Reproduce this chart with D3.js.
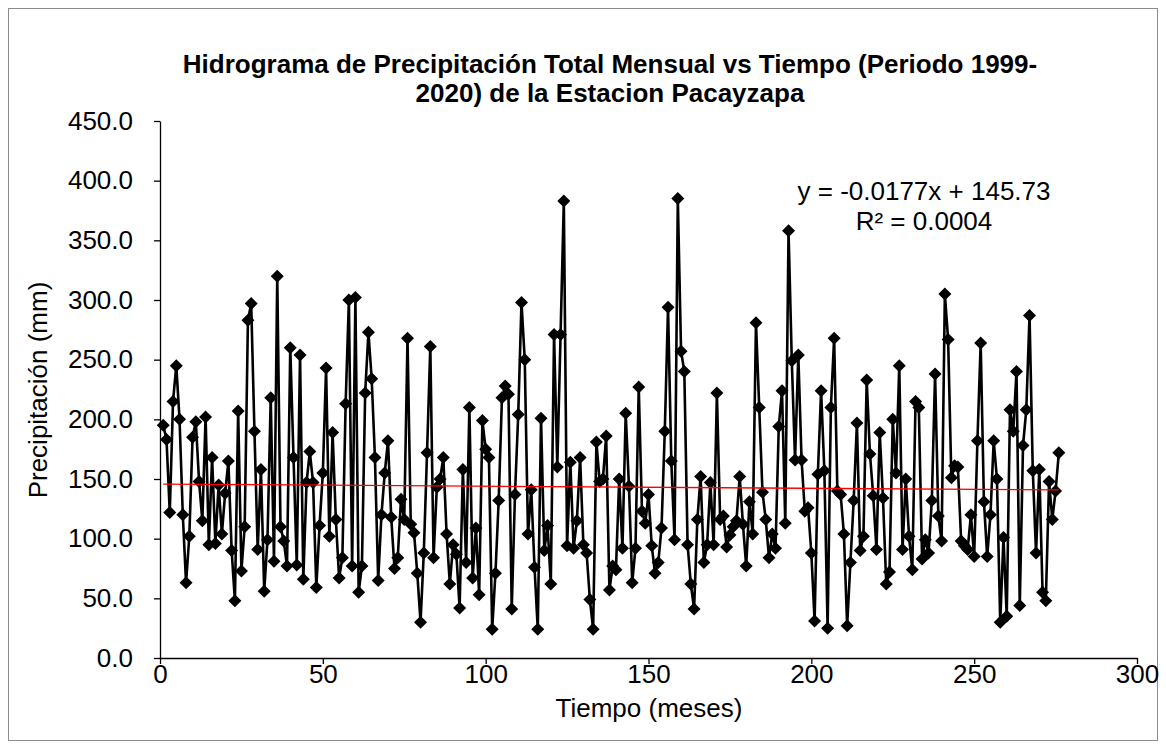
<!DOCTYPE html>
<html>
<head>
<meta charset="utf-8">
<script src="https://cdn.jsdelivr.net/npm/d3@7"></script>
<style>
  body { margin: 0; background: #fff; }
  svg { display: block; font-family: "Liberation Sans", Arial, sans-serif; }
</style>
</head>
<body>
<svg width="1166" height="749"></svg>
<script>
// monthly precipitation (mm), month 1..276
const precip = [
  195,183,122,215,245,200,120,63,102,185,198,148,115,202,95,168,96,145,104,138,
  165,90,48,207,73,110,283,297,190,91,158,56,99,218,81,320,110,98,77,260,
  168,78,254,66,147,173,147,59,111,155,243,102,189,116,67,84,213,300,77,302,
  55,77,222,273,234,168,65,120,155,182,118,75,84,133,116,268,112,105,71,30,
  88,172,261,84,143,150,168,104,62,95,87,42,158,80,210,67,109,53,199,175,
  168,24,71,132,218,228,221,41,137,204,298,250,104,141,76,24,201,90,111,62,
  271,160,271,383,94,164,92,115,168,95,88,49,24,181,148,150,186,57,77,74,
  150,92,205,144,63,92,227,123,113,137,94,71,80,109,190,294,165,99,385,257,
  240,95,62,41,116,152,80,95,147,95,222,116,119,93,103,110,115,152,112,77,
  131,104,281,210,139,116,84,104,92,194,224,113,358,249,166,254,166,123,126,88,
  31,154,224,157,25,210,268,140,137,104,27,80,132,197,90,102,233,171,136,91,
  189,134,62,72,200,155,245,91,150,102,74,215,210,83,99,88,132,238,119,98,
  305,267,151,161,160,98,94,91,120,85,182,264,131,85,120,182,150,30,101,35,
  208,190,240,44,178,208,287,157,88,158,55,48,148,116,140,172
];
const months = precip.map((v, i) => i + 1);

const xTicks = [0, 50, 100, 150, 200, 250, 300];
const yTicks = [0, 50, 100, 150, 200, 250, 300, 350, 400, 450];

// linear trend as printed on the chart
const trendSlope = -0.0177;
const trendIntercept = 145.73;
const trendR2 = "0.0004";

const titleLines = ["Hidrograma de Precipitación Total Mensual vs Tiempo (Periodo 1999-",
                    "2020) de la Estacion Pacayzapa"];

const fontSize = "26px";

var svg = d3.select("svg");

// chart border
svg.append("rect")
  .attr("x", 8.5).attr("y", 8.5)
  .attr("width", 1149).attr("height", 732)
  .attr("fill", "#fff")
  .attr("stroke", "#8c8c8c")
  .attr("stroke-width", 1);

const plotLeft = 160, plotRight = 1137, plotTop = 121, plotBottom = 658;

var x = d3.scaleLinear().domain([0, 300]).range([plotLeft, plotRight]);
var y = d3.scaleLinear().domain([0, 450]).range([plotBottom, plotTop]);

// axes
var xAxis = d3.axisBottom(x).tickValues(xTicks).tickSize(6).tickSizeOuter(0).tickFormat(d3.format("d"));
var yAxis = d3.axisLeft(y).tickValues(yTicks).tickSize(6).tickSizeOuter(0).tickFormat(d => d.toFixed(1));

var gx = svg.append("g").attr("transform", "translate(0," + plotBottom + ")").call(xAxis);
var gy = svg.append("g").attr("transform", "translate(" + plotLeft + ",0)").call(yAxis);

[gx, gy].forEach(function(g) {
  g.select(".domain").attr("stroke", "#000").attr("stroke-width", 1.3);
  g.selectAll(".tick line").attr("stroke", "#000").attr("stroke-width", 1.3);
  g.selectAll(".tick text")
    .attr("fill", "#000")
    .style("font-family", "'Liberation Sans', Arial, sans-serif")
    .style("font-size", fontSize);
});
gx.selectAll(".tick text").attr("dy", "0.6em");
gy.selectAll(".tick text").attr("x", -27);

// series line
var line = d3.line()
  .x(function(d, i) {return x(months[i])})
  .y(function(d) {return y(d)});

svg.append("path")
  .datum(precip)
  .attr("d", line)
  .attr("fill", "none")
  .attr("stroke", "#000")
  .attr("stroke-width", 2.6)
  .attr("stroke-linejoin", "round");

// diamond markers
svg.append("g").selectAll("path")
  .data(precip)
  .enter()
  .append("path")
  .attr("d", "M0,-6.5L6.5,0L0,6.5L-6.5,0Z")
  .attr("transform", function(d, i) {return "translate(" + x(months[i]) + "," + y(d) + ")"})
  .attr("fill", "#000");

// trend line
var x0 = months[0], x1 = months[months.length - 1];
svg.append("line")
  .attr("x1", x(x0)).attr("y1", y(trendSlope * x0 + trendIntercept))
  .attr("x2", x(x1)).attr("y2", y(trendSlope * x1 + trendIntercept))
  .attr("stroke", "#ff0000")
  .attr("stroke-width", 1.3);

// equation
var eq = svg.append("text")
  .attr("text-anchor", "middle")
  .style("font-size", fontSize);
eq.append("tspan").attr("x", 924).attr("y", 200)
  .text("y = " + trendSlope + "x + " + trendIntercept);
eq.append("tspan").attr("x", 924).attr("y", 230)
  .text("R² = " + trendR2);

// title
var title = svg.append("text")
  .attr("text-anchor", "middle")
  .style("font-size", fontSize)
  .style("font-weight", "bold");
titleLines.forEach(function(t, i) {
  title.append("tspan").attr("x", 610).attr("y", 73 + i * 29).text(t);
});

// axis titles
svg.append("text")
  .attr("x", 649).attr("y", 717)
  .attr("text-anchor", "middle")
  .style("font-size", fontSize)
  .text("Tiempo (meses)");

svg.append("text")
  .attr("transform", "translate(47,390) rotate(-90)")
  .attr("text-anchor", "middle")
  .style("font-size", fontSize)
  .text("Precipitación (mm)");
</script>
</body>
</html>
